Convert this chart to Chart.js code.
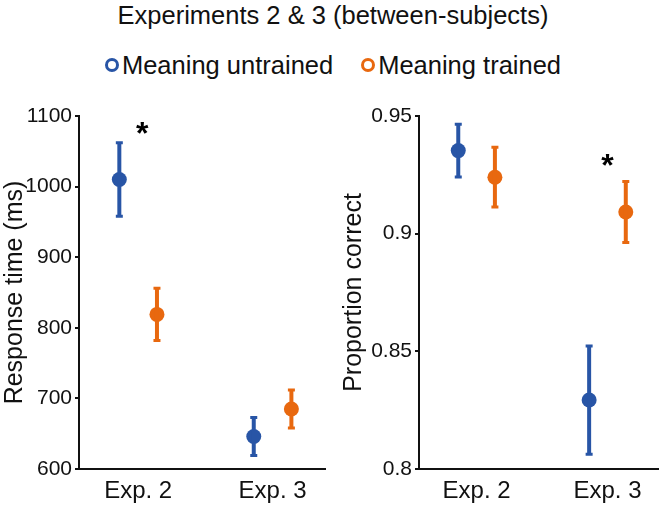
<!DOCTYPE html>
<html>
<head>
<meta charset="utf-8">
<script src="https://cdn.jsdelivr.net/npm/chart.js@4"></script>
<style>
  body { margin: 0; width: 666px; height: 505px; background: #fff; position: relative; overflow: hidden; font-family: "Liberation Sans", Arial, sans-serif; }
  #title { position: absolute; left: 0; top: 1px; width: 666px; text-align: center; font-size: 25.5px; color: #111; }
  #legend { position: absolute; left: 0; top: 51px; width: 666px; text-align: center; font-size: 25.5px; color: #111; }
  #legend span.item { margin: 0 14px; }
  #legend span.dot { display: inline-block; width: 8px; height: 8px; border-radius: 50%; border: 3px solid; margin-right: 3px; vertical-align: 2px; }
  canvas { position: absolute; top: 95px; }
</style>
</head>
<body>
<div id="title">Experiments 2 &amp; 3 (between-subjects)</div>
<div id="legend"></div>
<canvas id="rtChart" width="333" height="410" style="left:0"></canvas>
<canvas id="pcChart" width="333" height="410" style="left:333px"></canvas>
<script>
var experiments = ['Exp. 2', 'Exp. 3'];
var seriesNames = ['Meaning untrained', 'Meaning trained'];
var seriesColors = ['#2855a6', '#e8680f'];

var rtUntrained = [1010, 646];
var rtUntrainedErr = [52, 27];
var rtTrained = [819, 685];
var rtTrainedErr = [37, 27];
var rtTicks = [600, 700, 800, 900, 1000, 1100];
var rtStars = [[1.03, 1082]];

var pcUntrained = [0.9353, 0.8293];
var pcUntrainedErr = [0.0112, 0.023];
var pcTrained = [0.924, 0.9092];
var pcTrainedErr = [0.0127, 0.013];
var pcTicks = [0.8, 0.85, 0.9, 0.95];
var pcTickLabels = ['0.8', '0.85', '0.9', '0.95'];
var pcStars = [[2.0, 0.9309]];

var shift = 0.14;

var legend = document.getElementById('legend');
seriesNames.forEach(function(name, i) {
    legend.innerHTML += '<span class="item"><span class="dot" style="border-color:' + seriesColors[i] + '"></span>' + name + '</span>';
});

var errorBars = {
    id: 'errorBars',
    afterDatasetsDraw: function(chart) {
        var ctx = chart.ctx;
        var xs = chart.scales.x, ys = chart.scales.y;
        ctx.save();
        chart.data.datasets.forEach(function(ds) {
            ds.data.forEach(function(p) {
                var x = xs.getPixelForValue(p.x);
                var top = ys.getPixelForValue(p.y + p.err);
                var bot = ys.getPixelForValue(p.y - p.err);
                ctx.strokeStyle = ds.borderColor;
                ctx.lineWidth = 4;
                ctx.beginPath();
                ctx.moveTo(x, top);
                ctx.lineTo(x, bot);
                ctx.stroke();
                ctx.lineWidth = 3;
                ctx.beginPath();
                ctx.moveTo(x - 3.5, top); ctx.lineTo(x + 3.5, top);
                ctx.moveTo(x - 3.5, bot); ctx.lineTo(x + 3.5, bot);
                ctx.stroke();
            });
        });
        var stars = chart.options.plugins.stars || [];
        ctx.fillStyle = '#000';
        ctx.font = 'bold 32px "Liberation Sans", Arial, sans-serif';
        ctx.textAlign = 'center';
        ctx.textBaseline = 'middle';
        stars.forEach(function(s) {
            ctx.fillText('*', xs.getPixelForValue(s[0]), ys.getPixelForValue(s[1]) + 6);
        });
        ctx.restore();
    }
};

function points(vals, errs, off) {
    return vals.map(function(v, i) { return { x: i + 1 + off, y: v, err: errs[i] }; });
}

function makeChart(id, untr, untrErr, tr, trErr, ticks, tickLabels, yTitle, stars, yWidth, padRight, titlePad) {
    var family = '"Liberation Sans", Arial, sans-serif';
    return new Chart(document.getElementById(id), {
        type: 'scatter',
        data: {
            datasets: [
                { label: seriesNames[0], data: points(untr, untrErr, -shift), backgroundColor: seriesColors[0], borderColor: seriesColors[0], pointRadius: 7.5, pointBorderWidth: 0 },
                { label: seriesNames[1], data: points(tr, trErr, shift), backgroundColor: seriesColors[1], borderColor: seriesColors[1], pointRadius: 7.5, pointBorderWidth: 0 }
            ]
        },
        options: {
            responsive: false,
            animation: false,
            layout: { padding: { top: 21, right: padRight, bottom: 0, left: 0 } },
            plugins: { legend: { display: false }, tooltip: { enabled: false }, stars: stars },
            scales: {
                x: {
                    type: 'linear', min: 0.56, max: 2.39,
                    afterBuildTicks: function(s) { s.ticks = [{ value: 1 }, { value: 2 }]; },
                    afterFit: function(s) { s.height = 36; },
                    ticks: { color: '#111', font: { family: family, size: 24 }, padding: 0, callback: function(v) { return experiments[v - 1]; } },
                    grid: { display: false },
                    border: { color: '#111', width: 2 }
                },
                y: {
                    min: ticks[0], max: ticks[ticks.length - 1],
                    afterBuildTicks: function(s) { s.ticks = ticks.map(function(t) { return { value: t }; }); },
                    afterFit: function(s) { s.width = yWidth; },
                    ticks: { color: '#111', font: { family: family, size: 21 }, padding: 3, callback: function(v) { var i = ticks.indexOf(v); return tickLabels ? tickLabels[i] : String(v); } },
                    grid: { drawOnChartArea: false, drawTicks: true, tickLength: 4, color: '#111', lineWidth: 2 },
                    border: { color: '#111', width: 2 },
                    title: { display: true, text: yTitle, color: '#111', font: { family: family, size: 25 }, padding: titlePad }
                }
            }
        },
        plugins: [errorBars]
    });
}

makeChart('rtChart', rtUntrained, rtUntrainedErr, rtTrained, rtTrainedErr, rtTicks, null, 'Response time (ms)', rtStars, 79, 8, { top: 0, bottom: 0 });
makeChart('pcChart', pcUntrained, pcUntrainedErr, pcTrained, pcTrainedErr, pcTicks, pcTickLabels, 'Proportion correct', pcStars, 86, 3, { top: 6, bottom: 0 });
</script>
</body>
</html>
